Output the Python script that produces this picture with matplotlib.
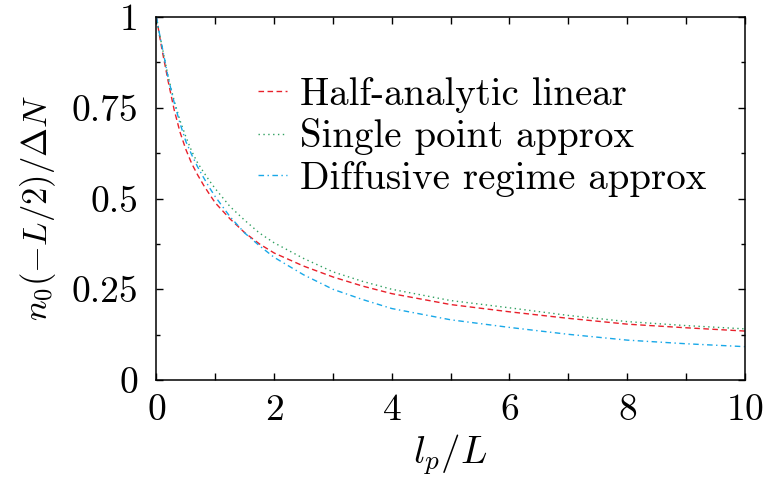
import matplotlib
matplotlib.use("Agg")
import matplotlib.pyplot as plt
from matplotlib.ticker import MultipleLocator

# values
lp_over_L = [0, 0.05, 0.1, 0.2, 0.3, 0.4, 0.5, 0.6, 0.7, 0.8, 0.9, 1.0,
             1.25, 1.5, 1.75, 2, 2.5, 3, 3.5, 4, 5, 6, 7, 8, 9, 10]
half_analytic = [1.0, 0.95, 0.905, 0.822, 0.745, 0.683, 0.635, 0.596, 0.565, 0.537, 0.512, 0.488,
                 0.444, 0.406, 0.375, 0.350, 0.314, 0.284, 0.259, 0.238, 0.208, 0.188,
                 0.170, 0.154, 0.144, 0.135]
single_point = [1.0, 0.955, 0.915, 0.835, 0.77, 0.715, 0.67, 0.63, 0.598, 0.573, 0.549, 0.527,
                0.478, 0.44, 0.405, 0.378, 0.335, 0.298, 0.272, 0.25, 0.219, 0.199,
                0.178, 0.161, 0.150, 0.141]
diffusive = [1.0, 0.955, 0.915, 0.832, 0.765, 0.707, 0.657, 0.620, 0.587, 0.558, 0.530, 0.505,
             0.450, 0.405, 0.370, 0.338, 0.290, 0.250, 0.222, 0.197, 0.166, 0.145,
             0.126, 0.110, 0.100, 0.092]

labels = ["Half-analytic linear", "Single point approx", "Diffusive regime approx"]
yticks = [0, 0.25, 0.5, 0.75, 1]
ytick_labels = ["0", "0.25", "0.5", "0.75", "1"]

plt.rcParams["font.family"] = "cmr10"
plt.rcParams["mathtext.fontset"] = "cm"
plt.rcParams["axes.formatter.use_mathtext"] = True

fig = plt.figure(figsize=(7.67, 4.86), dpi=100)
ax = fig.add_axes([0.204, 0.218, 0.767, 0.747])

ax.plot(lp_over_L, half_analytic, color="#e8202a", lw=1.0, dashes=(4, 2.5), label=labels[0])
ax.plot(lp_over_L, single_point, color="#30a060", lw=1.0, dashes=(1, 2.5), label=labels[1])
ax.plot(lp_over_L, diffusive, color="#18a8e8", lw=1.0, dashes=(4, 2.5, 1, 2.5), label=labels[2])

ax.set_xlim(0, 10)
ax.set_ylim(0, 1)
ax.xaxis.set_major_locator(MultipleLocator(2))
ax.xaxis.set_minor_locator(MultipleLocator(1))
ax.set_yticks(yticks)
ax.set_yticklabels(ytick_labels)
ax.yaxis.set_minor_locator(MultipleLocator(0.125))

ax.tick_params(which="both", direction="in", top=True, right=True, labelsize=27, width=1.0)
ax.tick_params(which="major", length=5)
ax.tick_params(axis="y", which="major", pad=13)
ax.tick_params(axis="x", which="major", pad=10)
ax.tick_params(which="minor", length=3)
ax.tick_params(axis="x", which="minor", length=5)
for s in ax.spines.values():
    s.set_linewidth(1.1)

ax.set_xlabel(r"$l_p/L$", fontsize=28, labelpad=4)
ax.set_ylabel(r"$n_0(-L/2)/\Delta N$", fontsize=25)
ax.yaxis.set_label_coords(-0.168, 0.474)

ax.legend(loc="upper left", bbox_to_anchor=(0.172, 0.835), frameon=False, fontsize=28,
          handlelength=0.75, handletextpad=0.35, labelspacing=0.14, borderpad=0,
          borderaxespad=0)

fig.savefig("out.png", dpi=100)
